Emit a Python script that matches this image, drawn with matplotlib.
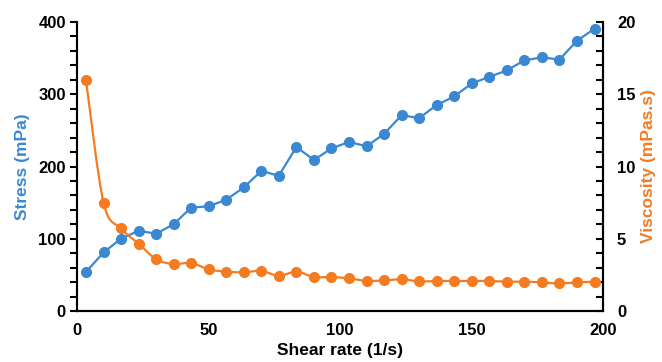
import matplotlib

matplotlib.use("Agg")
import matplotlib.pyplot as plt
import numpy as np
from matplotlib.patches import PathPatch
from matplotlib.path import Path
from matplotlib.ticker import MultipleLocator

plt.rcParams["font.family"] = ["Liberation Sans", "DejaVu Sans"]
plt.rcParams["font.weight"] = "bold"

# 剪切速率 (1/s)
shear_rate = [3.4, 10.1, 16.7, 23.4, 30.1, 36.7, 43.4, 50.1, 56.7, 63.4,
              70.1, 76.7, 83.4, 90.1, 96.7, 103.4, 110.1, 116.7, 123.4, 130.1,
              136.7, 143.4, 150.1, 156.7, 163.4, 170.1, 176.7, 183.4, 190.1, 196.8]
# 应力 (mPa)
stress = [54, 81, 100, 111, 107, 120, 143, 145, 154, 171,
          194, 187, 227, 209, 225, 234, 228, 245, 271, 267,
          285, 297, 315, 324, 333, 347, 351, 348, 374, 391]
# 粘度 (mPas.s)
viscosity = [16.0, 7.5, 5.72, 4.66, 3.58, 3.25, 3.32, 2.88, 2.72, 2.68,
             2.77, 2.44, 2.72, 2.35, 2.35, 2.26, 2.08, 2.12, 2.19, 2.05,
             2.08, 2.08, 2.08, 2.08, 2.03, 2.03, 1.98, 1.91, 1.98, 2.03]

BLUE = "#3A88D2"
ORANGE = "#F47B20"


def smooth_path(x, y):
    """Excel 风格平滑线：Catmull-Rom 转三次贝塞尔。"""
    p = np.column_stack([x, y]).astype(float)
    ext = np.vstack([p[0], p, p[-1]])
    verts = [p[0]]
    codes = [Path.MOVETO]
    for i in range(len(p) - 1):
        p0, p1, p2, p3 = ext[i], ext[i + 1], ext[i + 2], ext[i + 3]
        verts += [p1 + (p2 - p0) / 6, p2 - (p3 - p1) / 6, p2]
        codes += [Path.CURVE4] * 3
    return Path(verts, codes)


fig = plt.figure(figsize=(6.62, 3.62), dpi=100)
ax = fig.add_axes([0.1163, 0.1409, 0.7947, 0.7983])
ax2 = ax.twinx()

ax.plot(shear_rate, stress, color=BLUE, lw=1.6, marker="o", ms=7, zorder=3)
ax2.add_patch(PathPatch(smooth_path(shear_rate, viscosity), fill=False,
                        edgecolor=ORANGE, lw=1.6))
ax2.plot(shear_rate, viscosity, ls="none", color=ORANGE, marker="o", ms=7)

ax.set_xlim(0, 200)
ax.set_ylim(0, 400)
ax2.set_ylim(0, 20)
ax.xaxis.set_major_locator(MultipleLocator(50))
ax.yaxis.set_major_locator(MultipleLocator(100))
ax.yaxis.set_minor_locator(MultipleLocator(20))
ax2.yaxis.set_major_locator(MultipleLocator(5))
ax2.yaxis.set_minor_locator(MultipleLocator(1))

for a in (ax, ax2):
    a.spines["top"].set_visible(False)
    for s in ("left", "right", "bottom"):
        a.spines[s].set_linewidth(1.5)
ax.tick_params(axis="x", length=0, labelsize=12, pad=9)
ax.tick_params(axis="y", which="both", direction="out", length=5, width=1.5,
               labelsize=12, pad=3)
ax2.tick_params(axis="y", which="both", direction="in", length=5, width=1.5,
                labelsize=12, pad=10)

ax.set_xlabel("Shear rate (1/s)", fontsize=12.5, fontweight="bold", labelpad=3)
ax.set_ylabel("Stress (mPa)", fontsize=12.5, fontweight="bold", color=BLUE, labelpad=6)
ax2.set_ylabel("Viscosity (mPas.s)", fontsize=12.5, fontweight="bold", color=ORANGE,
               labelpad=4)

fig.savefig("out.png", dpi=100)
